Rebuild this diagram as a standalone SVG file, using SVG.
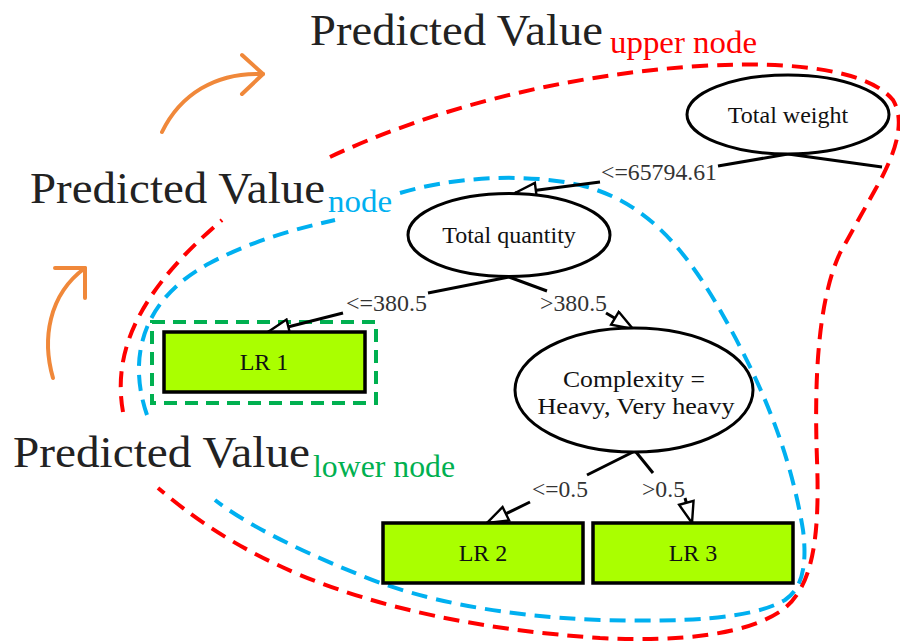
<svg xmlns="http://www.w3.org/2000/svg" width="900" height="643" viewBox="0 0 900 643">
<style>
  .big { font-family: "Liberation Serif", "DejaVu Serif", serif; font-size: 45px; fill: #222; }
  .sub { font-family: "Liberation Serif", "DejaVu Serif", serif; font-size: 31px; }
  .lbl { font-family: "Liberation Serif", "DejaVu Serif", serif; font-size: 23px; fill: #333; }
  .ntext { font-family: "Liberation Serif", "DejaVu Serif", serif; font-size: 24px; fill: #111; text-anchor: middle; }
  .ell { fill: #fff; stroke: #000; stroke-width: 3; }
  .leaf { fill: #aaff00; stroke: #000; stroke-width: 3.5; }
  .edge { fill: none; stroke: #000; stroke-width: 3; }
  .red { fill: none; stroke: #ff0000; stroke-width: 4; stroke-dasharray: 16 9; }
  .blue { fill: none; stroke: #00b0f0; stroke-width: 4; stroke-dasharray: 16 9; }
  .green { fill: none; stroke: #00b050; stroke-width: 4; stroke-dasharray: 13 8; }
  .orange { fill: none; stroke: #f0883a; stroke-width: 4; stroke-linecap: round; stroke-linejoin: round; }
</style>
<defs>
  <marker id="arr" viewBox="0 0 24 18" refX="23" refY="9" markerWidth="24" markerHeight="18" markerUnits="userSpaceOnUse" orient="auto">
    <path d="M2,1.5 L23,9 L2,16.5 Z" fill="#fff" stroke="#000" stroke-width="2.4" stroke-linejoin="miter"/>
  </marker>
</defs>

<!-- region outlines -->
<g id="regions">
  <path class="red" d="M 330,157 C 430,110 560,75 700,66 C 800,60 870,72 893,100 C 905,120 898,150 875,190 L 840,253 C 818,300 814,380 817,460 C 820,540 812,585 785,608 C 750,635 680,642 600,638 C 480,630 380,608 300,575 C 230,545 190,515 158,488"/>
  <path class="red" d="M 123,412 C 112,350 140,290 222,220"/>
  <path class="blue" d="M 400,193 C 450,178 520,172 580,185 C 640,200 680,240 720,310 C 760,380 790,450 803,530 C 808,570 800,590 785,600 C 750,620 680,622 600,620 C 500,616 420,600 360,575 C 290,547 240,520 215,500"/>
  <path class="blue" d="M 147,415 C 128,360 140,300 210,263 C 250,242 290,230 335,220"/>
  <rect class="green" x="152" y="322" width="224" height="81"/>
</g>

<!-- orange arrows -->
<g id="orange-arrows">
  <path class="orange" d="M 162,132 C 180,95 215,72 263,74"/>
  <path class="orange" d="M 242,55 L 263,74 L 242,94"/>
  <path class="orange" d="M 53,378 C 42,340 48,295 85,268"/>
  <path class="orange" d="M 55,268 L 85,268 L 85,298"/>
</g>

<!-- titles -->
<g id="titles">
  <text class="big" x="310" y="45" textLength="293" lengthAdjust="spacingAndGlyphs">Predicted Value</text>
  <text class="sub" x="610" y="53" fill="#ff0000" textLength="147" lengthAdjust="spacingAndGlyphs">upper node</text>
  <text class="big" x="30" y="203" textLength="295" lengthAdjust="spacingAndGlyphs">Predicted Value</text>
  <text class="sub" x="328" y="212" fill="#00b0f0" textLength="64" lengthAdjust="spacingAndGlyphs">node</text>
  <text class="big" x="13" y="467" textLength="297" lengthAdjust="spacingAndGlyphs">Predicted Value</text>
  <text class="sub" x="313" y="477" fill="#00b050" textLength="142" lengthAdjust="spacingAndGlyphs">lower node</text>
</g>

<!-- connectors -->
<g id="connectors">
  <path class="edge" d="M 788,154 L 718,166"/>
  <path class="edge" d="M 600,182 L 515,193" marker-end="url(#arr)"/>
  <path class="edge" d="M 788,154 L 882,167"/>
  <path class="edge" d="M 509,277 L 428,293"/>
  <path class="edge" d="M 343,313 L 268,332" marker-end="url(#arr)"/>
  <path class="edge" d="M 509,277 L 547,291"/>
  <path class="edge" d="M 606,313 L 633,329" marker-end="url(#arr)"/>
  <path class="edge" d="M 633,452 L 587,475"/>
  <path class="edge" d="M 530,502 L 487,523" marker-end="url(#arr)"/>
  <path class="edge" d="M 636,452 L 653,473"/>
  <path class="edge" d="M 685,498 L 692,523" marker-end="url(#arr)"/>
  <text class="lbl" x="601" y="180" textLength="116" lengthAdjust="spacingAndGlyphs">&lt;=65794.61</text>
  <text class="lbl" x="346" y="311" textLength="81" lengthAdjust="spacingAndGlyphs">&lt;=380.5</text>
  <text class="lbl" x="540" y="311" textLength="67" lengthAdjust="spacingAndGlyphs">&gt;380.5</text>
  <text class="lbl" x="532" y="497" textLength="56" lengthAdjust="spacingAndGlyphs">&lt;=0.5</text>
  <text class="lbl" x="642" y="497" textLength="43" lengthAdjust="spacingAndGlyphs">&gt;0.5</text>
</g>

<!-- nodes -->
<g id="node-total-weight">
  <ellipse class="ell" cx="788" cy="114.5" rx="101" ry="39.5"/>
  <text class="ntext" x="788" y="123">Total weight</text>
</g>
<g id="node-total-quantity">
  <ellipse class="ell" cx="509" cy="235" rx="101" ry="41.5"/>
  <text class="ntext" x="509" y="243">Total quantity</text>
</g>
<g id="node-complexity">
  <ellipse class="ell" cx="634" cy="390" rx="119" ry="62"/>
  <text class="ntext" x="634" y="387" textLength="142" lengthAdjust="spacingAndGlyphs">Complexity =</text>
  <text class="ntext" x="636" y="414" textLength="197" lengthAdjust="spacingAndGlyphs">Heavy, Very heavy</text>
</g>
<g id="node-lr1">
  <rect class="leaf" x="164" y="332" width="201" height="60"/>
  <text class="ntext" x="264" y="370">LR 1</text>
</g>
<g id="node-lr2">
  <rect class="leaf" x="383" y="523" width="200" height="60"/>
  <text class="ntext" x="483" y="561">LR 2</text>
</g>
<g id="node-lr3">
  <rect class="leaf" x="593" y="523" width="200" height="60"/>
  <text class="ntext" x="693" y="561">LR 3</text>
</g>
</svg>
